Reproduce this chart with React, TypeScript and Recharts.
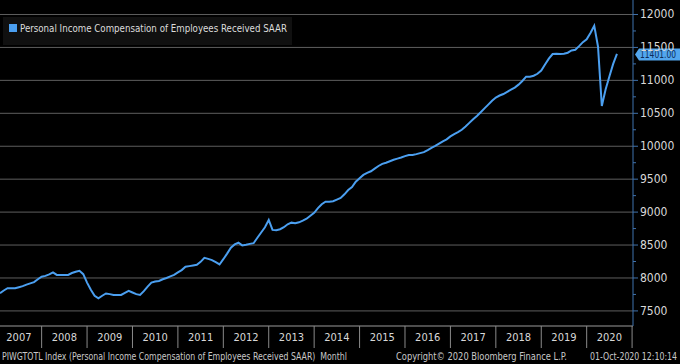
import { LineChart, Line, XAxis, YAxis, CartesianGrid, ReferenceLine } from 'recharts'

// Personal income: compensation of employees received, SAAR (bn USD), monthly
const comp2007 = [7768, 7810, 7844, 7844, 7844, 7860, 7876, 7900, 7918, 7937, 7980, 8020]
const comp2008 = [8032, 8055, 8085, 8046, 8046, 8046, 8046, 8075, 8095, 8110, 8058, 7930]
const comp2009 = [7820, 7730, 7690, 7730, 7765, 7755, 7742, 7742, 7742, 7775, 7805, 7780]
const comp2010 = [7755, 7742, 7800, 7870, 7930, 7945, 7955, 7980, 8000, 8025, 8046, 8085]
const comp2011 = [8120, 8170, 8180, 8190, 8200, 8245, 8305, 8290, 8272, 8240, 8205, 8285]
const comp2012 = [8370, 8460, 8510, 8535, 8495, 8505, 8518, 8528, 8610, 8690, 8770, 8880]
const comp2013 = [8730, 8725, 8740, 8770, 8815, 8840, 8830, 8845, 8870, 8900, 8945, 8990]
const comp2014 = [9060, 9120, 9158, 9158, 9165, 9190, 9215, 9270, 9335, 9380, 9462, 9515]
const comp2015 = [9565, 9595, 9620, 9660, 9700, 9733, 9750, 9772, 9795, 9812, 9830, 9850]
const comp2016 = [9866, 9867, 9880, 9895, 9910, 9940, 9975, 10004, 10040, 10075, 10105, 10150]
const comp2017 = [10185, 10215, 10250, 10300, 10355, 10410, 10460, 10515, 10575, 10632, 10690, 10740]
const comp2018 = [10770, 10793, 10825, 10858, 10890, 10935, 10990, 11056, 11056, 11070, 11100, 11150]
const comp2019 = [11240, 11330, 11400, 11405, 11400, 11405, 11420, 11455, 11465, 11520, 11580, 11623]
const comp2020 = [11720, 11830, 11511, 10611, 10860, 11060, 11250, 11401]

const firstYear = 2007
const yearLabels = ['2007', '2008', '2009', '2010', '2011', '2012', '2013', '2014', '2015', '2016', '2017', '2018', '2019', '2020']
const yTicks = [7500, 8000, 8500, 9000, 9500, 10000, 10500, 11000, 11500, 12000]
const yMinorTicks = [7750, 8250, 8750, 9250, 9750, 10250, 10750, 11250, 11750]
const lastValue = 11401.0
const seriesName = 'Personal Income Compensation of Employees Received SAAR'
const footerSource = 'PIWGTOTL Index (Personal Income Compensation of Employees Received SAAR)  Monthl'
const footerCopy = 'Copyright© 2020 Bloomberg Finance L.P.'
const footerDate = '01-Oct-2020 12:10:14'

const byYear = [comp2007, comp2008, comp2009, comp2010, comp2011, comp2012, comp2013, comp2014, comp2015, comp2016, comp2017, comp2018, comp2019, comp2020]
const data = byYear.flatMap((vals, yi) =>
  vals.map((v, m) => ({ t: firstYear + yi + (m + 1) / 12, value: v }))
)

const W = 680
const H = 349
const axisW = 47
const axisH = 23
const xDomain: [number, number] = [firstYear + 1 / 12, 2021.02]
const yDomain: [number, number] = [7271, 12220]
const halfYear = ((W - axisW) / (xDomain[1] - xDomain[0])) / 2
const condensed = '"DejaVu Sans Condensed", "DejaVu Sans", sans-serif'
const lineColor = '#4b9ff0'

const YearTick = (props: any) => {
  const { x, y, payload } = props
  return (
    <g>
      <line x1={x + halfYear} y1={y} x2={x + halfYear} y2={y + 22} stroke="#8a8a8a" />
      <text x={x} y={y + 15} textAnchor="middle" fill="#d8d8d8" fontSize={11} fontFamily={condensed}>
        {yearLabels[Math.floor(payload.value) - firstYear]}
      </text>
    </g>
  )
}

const ValueTick = (props: any) => {
  const { x, y, payload } = props
  const major = payload.value % 500 === 0
  return (
    <g>
      <line x1={x} y1={y} x2={x + (major ? 5 : 3)} y2={y} stroke="#3f72ad" />
      {major && (
        <text x={x + 7} y={y + 4} fill="#d8d8d8" fontSize={12} fontFamily={condensed}>
          {payload.value}
        </text>
      )}
    </g>
  )
}

const LastTag = (props: any) => {
  const { viewBox } = props
  const x0 = viewBox.x + viewBox.width + 2
  const y0 = viewBox.y + 0.5
  return (
    <g>
      <path
        d={`M${x0},${y0} L${x0 + 4},${y0 - 6} L${W},${y0 - 6} L${W},${y0 + 6} L${x0 + 4},${y0 + 6} Z`}
        fill="#52a6ee"
      />
      <text
        x={x0 + 5}
        y={y0 + 4}
        fill="#0e2c57"
        fontSize={11}
        fontFamily={condensed}
        textLength={W - x0 - 9}
        lengthAdjust="spacingAndGlyphs"
      >
        {lastValue.toFixed(2)}
      </text>
    </g>
  )
}

export default function App() {
  return (
    <div style={{ position: 'fixed', left: 0, top: 0, width: W, height: 364, background: '#000', overflow: 'hidden' }}>
      <LineChart width={W} height={H} data={data} margin={{ top: 0, right: 0, bottom: 0, left: 0 }}>
        <CartesianGrid vertical={false} stroke="#5e5e5e" horizontalValues={yTicks} />
        <XAxis
          dataKey="t"
          type="number"
          domain={xDomain}
          ticks={yearLabels.map((_, i) => firstYear + i + 0.5)}
          height={axisH}
          tickSize={0}
          tickMargin={0}
          tickLine={false}
          axisLine={{ stroke: '#9a9a9a' }}
          tick={<YearTick />}
          interval={0}
          allowDataOverflow
        />
        <YAxis
          orientation="right"
          domain={yDomain}
          ticks={[...yTicks, ...yMinorTicks].sort((a, b) => a - b)}
          width={axisW}
          tickSize={0}
          tickMargin={0}
          tickLine={false}
          axisLine={{ stroke: '#3f72ad' }}
          tick={<ValueTick />}
          interval={0}
          allowDataOverflow
        />
        <Line
          type="linear"
          dataKey="value"
          stroke={lineColor}
          strokeWidth={2}
          dot={false}
          activeDot={false}
          isAnimationActive={false}
        />
        <ReferenceLine y={lastValue} stroke="none" label={<LastTag />} />
      </LineChart>

      <svg
        width={W}
        height={364}
        style={{ position: 'absolute', left: 0, top: 0, pointerEvents: 'none' }}
        fontFamily={condensed}
      >
        {/* legend */}
        <rect x={3} y={17} width={289} height={28} fill="#101010" />
        <rect x={9} y={24} width={8} height={8} fill={lineColor} />
        <text x={20} y={32} fontSize={11} fill="#dcdcdc" textLength={267} lengthAdjust="spacingAndGlyphs">
          {seriesName}
        </text>
        {/* footer */}
        <text x={2} y={360} fontSize={10} fill="#c8c8c8" textLength={345} lengthAdjust="spacingAndGlyphs" xmlSpace="preserve">
          {footerSource}
        </text>
        <text x={396} y={360} fontSize={10} fill="#c8c8c8" textLength={171} lengthAdjust="spacingAndGlyphs">
          {footerCopy}
        </text>
        <text x={590} y={360} fontSize={10} fill="#c8c8c8" textLength={87} lengthAdjust="spacingAndGlyphs">
          {footerDate}
        </text>
      </svg>
    </div>
  )
}
